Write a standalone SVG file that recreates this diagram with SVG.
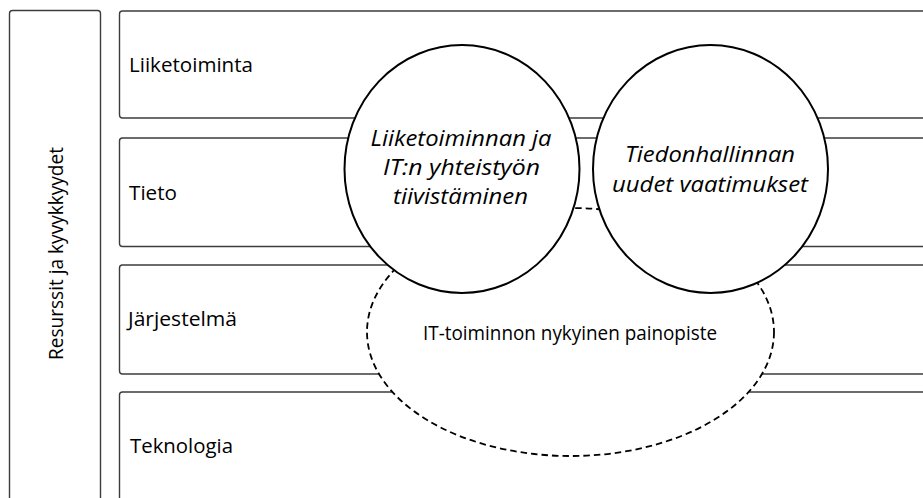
<svg xmlns="http://www.w3.org/2000/svg" width="923" height="498" viewBox="0 0 923 498">
  <style>
    .box { fill: #ffffff; stroke: #3c3c3c; stroke-width: 1.4; }
    .label { font-family: "Open Sans", "Liberation Sans", sans-serif; font-size: 20px; fill: #000000; }
    .focus { fill: #ffffff; stroke: #000000; stroke-width: 2; }
    .current { fill: #ffffff; stroke: #000000; stroke-width: 1.8; stroke-dasharray: 6.5 4; }
    .theme { font-family: "Open Sans", "Liberation Sans", sans-serif; font-size: 21px; font-style: italic; fill: #000000; text-anchor: middle; }
  </style>
  <rect width="923" height="498" fill="#ffffff"/>

  <g id="resources">
    <rect class="box" x="9.5" y="10.5" width="91" height="520" rx="3"/>
    <text class="label" transform="translate(63,360) rotate(-90)" x="0" y="0" textLength="213" lengthAdjust="spacingAndGlyphs">Resurssit ja kyvykkyydet</text>
  </g>

  <g id="layer-business">
    <rect class="box" x="119.5" y="11" width="830" height="107" rx="3"/>
    <text class="label" x="129" y="72" textLength="124" lengthAdjust="spacingAndGlyphs">Liiketoiminta</text>
  </g>
  <g id="layer-data">
    <rect class="box" x="119.5" y="138" width="830" height="108.5" rx="3"/>
    <text class="label" x="129" y="199.5" textLength="48" lengthAdjust="spacingAndGlyphs">Tieto</text>
  </g>
  <g id="layer-systems">
    <rect class="box" x="119.5" y="265" width="830" height="109" rx="3"/>
    <text class="label" x="128" y="326" textLength="109" lengthAdjust="spacingAndGlyphs">Järjestelmä</text>
  </g>
  <g id="layer-technology">
    <rect class="box" x="119.5" y="392" width="830" height="140" rx="3"/>
    <text class="label" x="130" y="453" textLength="103" lengthAdjust="spacingAndGlyphs">Teknologia</text>
  </g>

  <g id="current-focus">
    <ellipse class="current" cx="570.5" cy="332" rx="203.5" ry="124"/>
    <text class="label" x="423" y="340" textLength="294" lengthAdjust="spacingAndGlyphs">IT-toiminnon nykyinen painopiste</text>
  </g>

  <g id="collaboration">
    <ellipse class="focus" cx="462" cy="169" rx="117.5" ry="124"/>
    <text class="theme" x="461" y="146" textLength="181" lengthAdjust="spacingAndGlyphs">Liiketoiminnan ja</text>
    <text class="theme" x="461.5" y="175" textLength="157" lengthAdjust="spacingAndGlyphs">IT:n yhteistyön</text>
    <text class="theme" x="460.5" y="204" textLength="135" lengthAdjust="spacingAndGlyphs">tiivistäminen</text>
  </g>

  <g id="data-management">
    <ellipse class="focus" cx="710.5" cy="169" rx="117.5" ry="124"/>
    <text class="theme" x="710" y="162" textLength="170" lengthAdjust="spacingAndGlyphs">Tiedonhallinnan</text>
    <text class="theme" x="710" y="191.5" textLength="196" lengthAdjust="spacingAndGlyphs">uudet vaatimukset</text>
  </g>

  <g id="connectors"></g>
</svg>
